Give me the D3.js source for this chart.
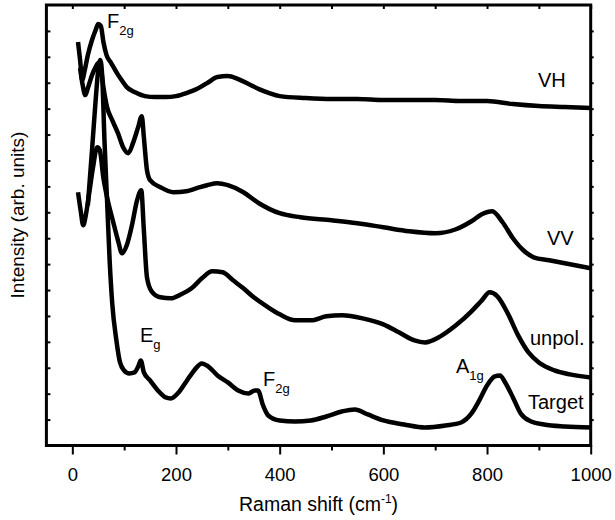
<!DOCTYPE html>
<html><head><meta charset="utf-8">
<script src="https://cdn.jsdelivr.net/npm/d3@7"></script>
<style>
body{margin:0;background:#fff}
svg{display:block}
text{font-family:"Liberation Sans",Arial,Helvetica,sans-serif;fill:#000}
</style>
</head><body>
<svg id="chart" width="615" height="520"></svg>
<script>
// ---- data (Raman shift in cm-1, intensity in arbitrary units, curves already offset) ----
const vhShift = [11,15,19,24,30,38,45,50,55,60,66,75,85,95,105,120,140,160,180,200,220,240,260,280,300,320,340,360,380,400,450,500,550,600,650,700,750,800,850,900,950,1000];
const vhIntensity = [403,385,365,375,390,405,415,421,419,403,390,382,373,365,358,353,349,348,348,349,352,356,362,368,369,366,361,356,352,349,347,346,346,345,345,345,344,344,341,339,338,337];

const vvShift = [15,20,25,30,38,45,50,55,60,67,77,88,98,108,117,127,134,138,144,150,170,195,220,240,260,280,300,330,360,400,440,500,550,600,650,700,740,770,790,810,830,850,870,890,920,950,1000];
const vvIntensity = [377,360,350,357,370,378,382,377,358,338,325,312,298,292,302,318,329,308,275,265,258,253,254,257,260,262,260,253,242,232,228,225,222,218,214,212,216,224,231,234,223,207,195,188,185,182,177];

const unpolShift = [11,16,21,26,32,40,48,53,60,67,78,88,96,105,115,125,133,138,144,153,170,190,210,230,250,270,290,310,330,350,375,400,430,460,490,520,560,600,630,660,680,710,740,770,790,805,820,840,860,880,900,930,960,1000];
const unpolIntensity = [253,235,220,230,250,278,298,295,267,248,225,205,192,200,220,245,255,215,168,154,148,147,151,157,167,174,173,165,157,148,139,131,125,125,129,130,127,121,113,105,103,109,120,134,145,153,149,132,110,93,83,75,71,68];

const targetShift = [30,38,45,50,54,58,62,67,72,77,85,92,100,110,120,128,132,138,150,165,180,190,205,220,235,250,262,280,300,320,340,352,358,368,378,400,430,460,490,520,545,570,600,640,680,720,750,770,785,800,815,825,835,850,865,885,910,950,1000];
const targetIntensity = [240,295,345,375,385,365,305,245,185,142,105,83,75,72,73,80,85,73,65,55,48,47,53,64,75,82,79,70,63,55,52,55,55,40,30,25,24,25,29,34,36,31,25,21,18,20,23,32,45,60,69,70,63,48,32,24,21,19,18];

const xTickValues = [0,200,400,600,800,1000];
const xMinorValues = [100,300,500,700,900];
const xAllTicks = [0,100,200,300,400,500,600,700,800,900,1000];
const yTickStep = 440/17;

// ---- drawing ----
const svg = d3.select("#chart");
const L = 46.4, R = 590.7, T = 5, B = 445.5;
const x = d3.scaleLinear().domain([-50,1000]).range([L,R]);
const y = d3.scaleLinear().domain([0,440]).range([B,T]);
const yTicks = d3.range(0,441,yTickStep).slice(1,-1);

svg.append("defs").append("clipPath").attr("id","clip")
  .append("rect").attr("x",L).attr("y",T).attr("width",R-L).attr("height",B-T);

const line = d3.line().x(d=>x(d[0])).y(d=>y(d[1])).curve(d3.curveMonotoneX);
const series = [
  [vhShift,vhIntensity],[vvShift,vvIntensity],[unpolShift,unpolIntensity],[targetShift,targetIntensity]
];
const g = svg.append("g").attr("clip-path","url(#clip)");
series.forEach(([xs,ys])=>{
  g.append("path").datum(xs.map((v,i)=>[v,ys[i]]))
    .attr("d",line).attr("fill","none").attr("stroke","#000")
    .attr("stroke-width",4.5).attr("stroke-linejoin","round");
});

function styleAxis(sel){
  sel.select(".domain").remove();
  sel.selectAll(".tick line").attr("stroke","#000").attr("stroke-width",2);
}
// bottom major
svg.append("g").attr("transform",`translate(0,${B})`)
  .call(d3.axisBottom(x).tickValues(xTickValues).tickSize(9).tickFormat(d3.format("d")))
  .call(styleAxis)
  .call(s=>s.selectAll("text").attr("y",35).attr("dy",0).attr("font-size",18.5).attr("font-family","Liberation Sans, Arial, sans-serif").attr("fill","#000"));
// bottom minor
svg.append("g").attr("transform",`translate(0,${B})`)
  .call(d3.axisBottom(x).tickValues(xMinorValues).tickSize(5).tickFormat(""))
  .call(styleAxis);
// top
svg.append("g").attr("transform",`translate(0,${T})`)
  .call(d3.axisTop(x).tickValues(xAllTicks).tickSize(-4).tickFormat(""))
  .call(styleAxis);
// left
svg.append("g").attr("transform",`translate(${L},0)`)
  .call(d3.axisLeft(y).tickValues(yTicks).tickSize(-4).tickFormat(""))
  .call(styleAxis);
// right
svg.append("g").attr("transform",`translate(${R},0)`)
  .call(d3.axisRight(y).tickValues(yTicks).tickSize(3).tickFormat(""))
  .call(styleAxis);

// frame
svg.append("rect").attr("x",L).attr("y",T).attr("width",R-L).attr("height",B-T)
  .attr("fill","none").attr("stroke","#000").attr("stroke-width",3);

// axis titles
const xt = svg.append("text").attr("x",(L+R)/2).attr("y",511).attr("text-anchor","middle").attr("font-size",19.5);
xt.append("tspan").text("Raman shift (cm");
xt.append("tspan").attr("font-size",12).attr("dy",-8).text("-1");
xt.append("tspan").attr("dy",8).text(")");

svg.append("text").attr("transform","translate(24,215) rotate(-90)")
  .attr("text-anchor","middle").attr("font-size",19).text("Intensity (arb. units)");

// annotations
function label(px,py,main,sub){
  const t = svg.append("text").attr("x",px).attr("y",py).attr("font-size",20);
  t.append("tspan").text(main);
  if(sub) t.append("tspan").attr("font-size",13).attr("dy",7).text(sub);
}
label(107,28,"F","2g");
label(140,342,"E","g");
label(263,386,"F","2g");
label(456,373,"A","1g");
label(538,87,"VH");
label(547,245,"VV");
label(530,345,"unpol.");
label(528,409,"Target");
</script>
</body></html>
